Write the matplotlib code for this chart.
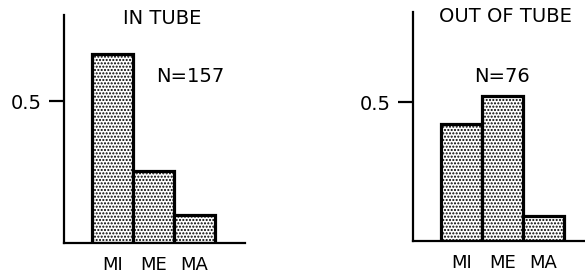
import matplotlib
matplotlib.use("Agg")
import matplotlib.pyplot as plt

categories = ["MI", "ME", "MA"]
in_tube = [0.665, 0.255, 0.10]
out_tube = [0.42, 0.52, 0.09]
titles = ["IN TUBE", "OUT OF TUBE"]
n_labels = ["N=157", "N=76"]

plt.rcParams["font.family"] = ["DejaVu Sans"]
plt.rcParams["hatch.linewidth"] = 1.0

fig = plt.figure(figsize=(5.85, 2.76), dpi=100)
W, H = 585.0, 276.0

def make_ax(x0, x1, ybase, ytop):
    return fig.add_axes([x0 / W, (H - ybase) / H, (x1 - x0) / W, (ybase - ytop) / H])

ax1 = make_ax(64, 245, 243, 15)
ax2 = make_ax(413, 585, 241, 12)

panels = [
    (ax1, in_tube, (-1.18, 3.23), 0.803),
    (ax2, out_tube, (-1.18, 3.01), 0.824),
]

for ax, vals, xlim, ytop in panels:
    x = list(range(len(categories)))
    ax.bar(x, vals, width=1.0, facecolor="white", edgecolor="black",
           linewidth=2.3, hatch=".....", zorder=2)
    ax.set_xlim(*xlim)
    ax.set_ylim(0, ytop)
    for s in ["top", "right"]:
        ax.spines[s].set_visible(False)
    for s in ["left", "bottom"]:
        ax.spines[s].set_linewidth(1.6)
    ax.set_yticks([0.5])
    ax.set_yticklabels(["0.5"], fontsize=14)
    ax.tick_params(axis="y", direction="out", length=11, width=1.6, pad=5)
    ax.set_xticks(x)
    ax.set_xticklabels(categories, fontsize=13)
    ax.tick_params(axis="x", length=0, pad=9)
    ax.patch.set_alpha(0)

fig.text(162 / W, 1 - 18 / H, titles[0], ha="center", va="center", fontsize=14)
fig.text(190 / W, 1 - 76 / H, n_labels[0], ha="center", va="center", fontsize=14)
fig.text(505 / W, 1 - 16 / H, titles[1], ha="center", va="center", fontsize=14)
fig.text(502 / W, 1 - 76 / H, n_labels[1], ha="center", va="center", fontsize=14)

fig.savefig("out.png", dpi=100, facecolor="white")
